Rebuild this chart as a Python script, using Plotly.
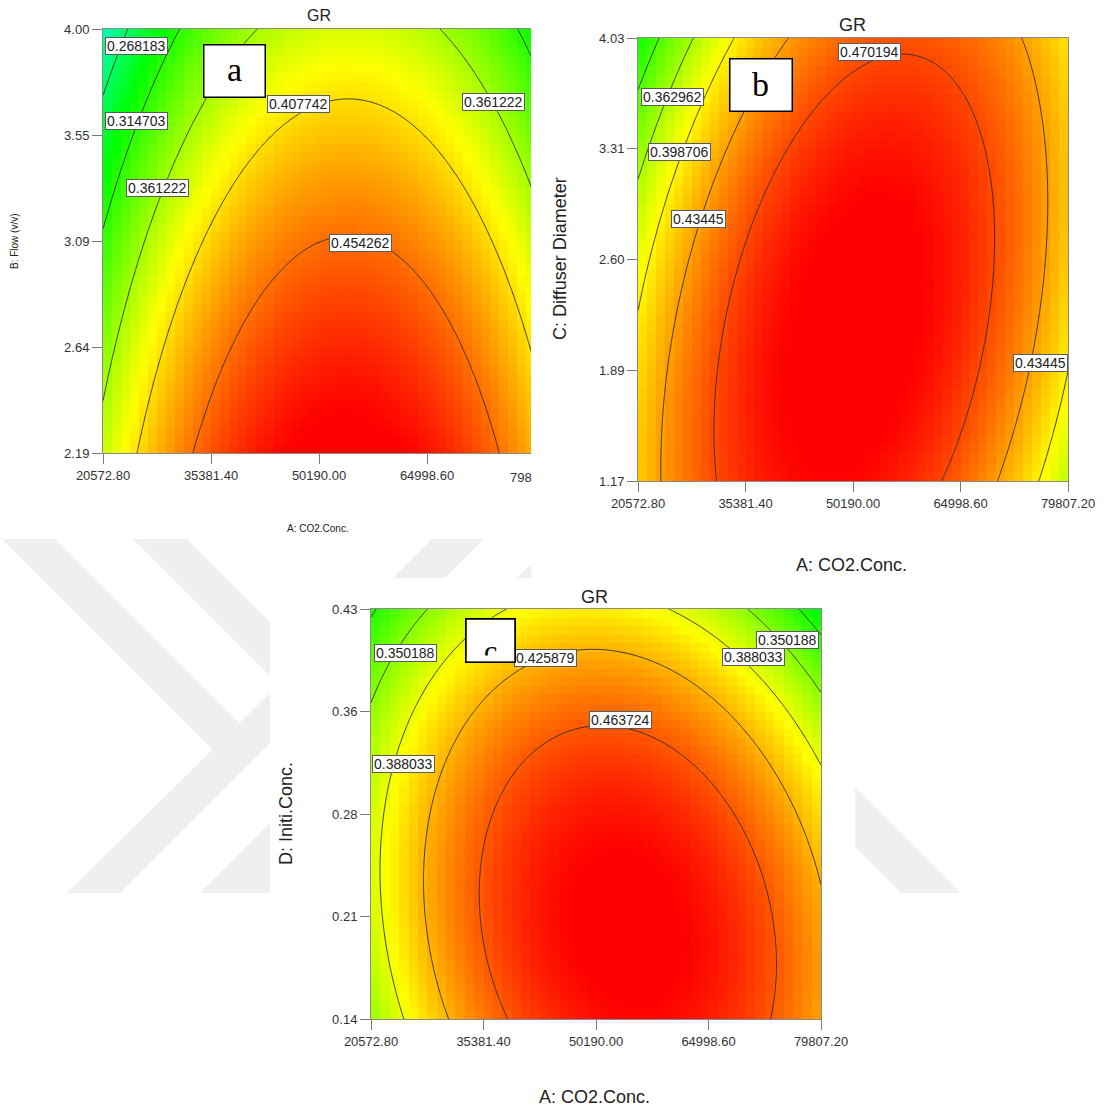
import numpy as np
import plotly.graph_objects as go

FIG_W, FIG_H = 1105, 1108

# ---------------- data ----------------
# shared factor A: CO2 concentration
co2_low, co2_high = 20572.8, 79807.2
co2_ticktext = ["20572.80", "35381.40", "50190.00", "64998.60", "79807.20"]

# panel a : A vs B (Flow, v/v)
flow_low, flow_high = 2.19, 4.00
flow_ticktext = ["2.19", "2.64", "3.09", "3.55", "4.00"]
a_levels = [0.268183, 0.314703, 0.361222, 0.407742, 0.454262]
# points read on the contour lines (coded factor units, -1..+1)
a_pt_level = [0.268183, 0.268183,
              0.314703, 0.314703, 0.314703, 0.314703, 0.314703,
              0.361222, 0.361222, 0.361222, 0.361222, 0.361222, 0.361222,
              0.407742, 0.407742, 0.407742, 0.407742, 0.407742, 0.407742, 0.407742, 0.407742,
              0.454262, 0.454262, 0.454262, 0.454262, 0.454262]
a_pt_A = [-0.856, -1.0,
          -0.654, -0.856, -0.995, 0.889, 0.981,
          -1.0, -0.79, -0.546, -0.321, 0.551, 0.981,
          -0.858, -0.649, -0.49, -0.245, 0.12, 0.486, 0.75, 0.968,
          -0.578, -0.364, 0.174, 0.585, 0.859]
a_pt_B = [1.0, 0.62,
          1.0, 0.519, 0.10, 1.0, 0.868,
          -0.703, 0.10, 0.668, 1.0, 1.0, 0.321,
          -1.0, -0.375, 0.095, 0.608, 0.67, 0.509, 0.132, -0.437,
          -1.0, -0.50, -0.046, -0.50, -1.0]

# panel b : A vs C (Diffuser Diameter)
diam_low, diam_high = 1.17, 4.03
diam_ticktext = ["1.17", "1.89", "2.60", "3.31", "4.03"]
b_levels = [0.327218, 0.362962, 0.398706, 0.43445, 0.470194]
b_pt_level = [0.327218, 0.327218,
              0.362962, 0.362962, 0.362962,
              0.398706, 0.398706, 0.398706, 0.398706, 0.398706,
              0.43445, 0.43445, 0.43445, 0.43445, 0.43445, 0.43445,
              0.43445, 0.43445, 0.43445, 0.43445, 0.43445,
              0.470194, 0.470194, 0.470194, 0.470194, 0.470194, 0.470194,
              0.470194, 0.470194, 0.470194, 0.470194, 0.470194]
b_pt_A = [-0.884, -1.0,
          -0.744, -0.837, -1.0,
          -0.572, -0.805, -1.0, 0.87, 0.90,
          -0.326, -0.526, -0.698, -0.837, -0.884, -0.888,
          0.669, 0.808, 0.884, 0.893, 0.791,
          0.219, -0.107, -0.353, -0.526, -0.634, -0.619,
          0.544, 0.637, 0.637, 0.605, 0.405]
b_pt_C = [0.999, 0.756,
          0.999, 0.734, 0.359,
          0.999, 0.485, -0.22, -1.0, -0.87,
          0.999, 0.689, 0.192, -0.093, -0.544, -1.0,
          -1.0, -0.589, -0.197, 0.418, 0.999,
          0.961, 0.765, 0.359, -0.183, -0.694, -1.0,
          0.598, 0.12, -0.093, -0.544, -1.0]

# panel c : A vs D (Initial Conc.)
init_low, init_high = 0.14, 0.43
init_ticktext = ["0.14", "0.21", "0.28", "0.36", "0.43"]
c_levels = [0.312342, 0.350188, 0.388033, 0.425879, 0.463724]
c_pt_level = [0.312342, 0.312342,
              0.350188, 0.350188, 0.350188, 0.350188,
              0.388033, 0.388033, 0.388033, 0.388033, 0.388033, 0.388033, 0.388033, 0.388033,
              0.425879, 0.425879, 0.425879, 0.425879, 0.425879, 0.425879, 0.425879, 0.425879,
              0.463724, 0.463724, 0.463724, 0.463724, 0.463724, 0.463724, 0.463724, 0.463724, 0.463724]
c_pt_A = [0.881, 1.0,
          -0.846, -1.0, 0.659, 1.0,
          -0.307, -0.72, -0.846, -0.965, -0.862, 0.326, 0.69, 1.0,
          0.025, -0.513, -0.751, -0.783, -0.672, 0.58, 0.945, 1.0,
          0.097, -0.292, -0.466, -0.521, -0.387, 0.5, 0.69, 0.786, 0.723]
c_pt_D = [1.0, 0.815,
          1.0, 0.412, 1.0, 0.613,
          1.0, 0.647, 0.218, -0.372, -1.0, 1.0, 0.761, 0.294,
          0.786, 0.596, -0.026, -0.372, -1.0, 0.546, -0.152, -0.261,
          0.403, 0.26, -0.026, -0.419, -1.0, 0.21, -0.152, -0.609, -1.0]

# ---------------- helpers ----------------
def fit_quadratic(xs, ys, zs):
    xs, ys, zs = (np.asarray(v, float) for v in (xs, ys, zs))
    M = np.column_stack([np.ones_like(xs), xs, ys, xs ** 2, ys ** 2, xs * ys])
    coef, *_ = np.linalg.lstsq(M, zs, rcond=None)
    return coef


def surface(coef, X, Y):
    return (coef[0] + coef[1] * X + coef[2] * Y + coef[3] * X ** 2
            + coef[4] * Y ** 2 + coef[5] * X * Y)


def to_real(coded, lo, hi):
    return (lo + hi) / 2 + np.asarray(coded) * (hi - lo) / 2


def px_x(px):
    return px / FIG_W


def px_y(py):
    return 1 - py / FIG_H


FONT = "Liberation Sans, Arial, sans-serif"
SERIF = "Liberation Serif, Times New Roman, serif"
ZMIN, ZMAX = 0.14, 0.50
def frac(v):
    return (v - ZMIN) / (ZMAX - ZMIN)
COLORSCALE = [[0.0, "rgb(0,0,255)"], [frac(0.22), "rgb(0,255,255)"],
              [frac(0.30), "rgb(0,255,0)"], [frac(0.395), "rgb(255,255,0)"],
              [1.0, "rgb(255,0,0)"]]
NCELL = 48

panels = [
    dict(key="", pts=(a_pt_A, a_pt_B, a_pt_level), levels=a_levels,
         ylo=flow_low, yhi=flow_high, ytext=flow_ticktext,
         box=(103, 531, 29, 453), xcoded_end=-1 + (531 - 103) / 216.0, ymirror=False),
    dict(key="2", pts=(b_pt_A, b_pt_C, b_pt_level), levels=b_levels,
         ylo=diam_low, yhi=diam_high, ytext=diam_ticktext,
         box=(638, 1068, 38, 481), xcoded_end=1.0, ymirror=True),
    dict(key="3", pts=(c_pt_A, c_pt_D, c_pt_level), levels=c_levels,
         ylo=init_low, yhi=init_high, ytext=init_ticktext,
         box=(371, 821, 609, 1019), xcoded_end=1.0, ymirror=True),
]

fig = go.Figure()
layout_axes = {}

centers = -1 + (np.arange(NCELL) + 0.5) * 2.0 / NCELL
fine = np.linspace(-1, 1, 201)

for p in panels:
    k = p["key"]
    xs, ys, zs = p["pts"]
    coef = fit_quadratic(xs, ys, zs)
    CX, CY = np.meshgrid(centers, centers)
    Z = surface(coef, CX, CY)
    FX, FY = np.meshgrid(fine, fine)
    ZF = surface(coef, FX, FY)
    xa, ya = "x" + k, "y" + k
    fig.add_trace(go.Heatmap(
        x=to_real(centers, co2_low, co2_high), y=to_real(centers, p["ylo"], p["yhi"]),
        z=Z, zsmooth=False, colorscale=COLORSCALE, zmin=ZMIN, zmax=ZMAX,
        showscale=False, hoverinfo="skip", xaxis=xa, yaxis=ya))
    lv = p["levels"]
    step = (lv[-1] - lv[0]) / (len(lv) - 1)
    fig.add_trace(go.Contour(
        x=to_real(fine, co2_low, co2_high), y=to_real(fine, p["ylo"], p["yhi"]),
        z=ZF, showscale=False, hoverinfo="skip",
        contours=dict(start=lv[0], end=lv[-1] + step * 0.01, size=step,
                      coloring="lines", showlabels=False),
        colorscale=[[0, "#2a2a2a"], [1, "#2a2a2a"]],
        line=dict(width=0.9, color="#2a2a2a"), xaxis=xa, yaxis=ya))

    x0, x1, y0, y1 = p["box"]
    xtickvals = list(to_real(np.linspace(-1, 1, 5), co2_low, co2_high))
    ytickvals = list(to_real(np.linspace(-1, 1, 5), p["ylo"], p["yhi"]))
    axis_common = dict(showgrid=False, zeroline=False, showline=True, automargin=False,
                       linecolor="#8a8a8a", linewidth=1, ticks="outside",
                       ticklen=10, tickcolor="#7a7a7a", tickwidth=1,
                       tickfont=dict(family=FONT, size=13, color="#333"))
    layout_axes["xaxis" + k] = dict(
        axis_common, domain=[px_x(x0), px_x(x1)],
        range=[co2_low, float(to_real(p["xcoded_end"], co2_low, co2_high))],
        tickvals=xtickvals, ticktext=co2_ticktext, anchor=ya, mirror=True)
    layout_axes["yaxis" + k] = dict(
        axis_common, domain=[px_y(y1), px_y(y0)], range=[p["ylo"], p["yhi"]],
        tickvals=ytickvals, ticktext=p["ytext"], anchor=xa, mirror=p["ymirror"])


def ann(text, px, py, size=13, family=FONT, color="#222", xanchor="center", **kw):
    return dict(text=text, x=px_x(px), y=px_y(py), xref="paper", yref="paper",
                xanchor=xanchor, yanchor="middle",
                showarrow=False, font=dict(family=family, size=size, color=color), **kw)


annotations = []
# titles and axis titles
annotations += [
    ann("GR", 319, 16, size=16),
    ann("GR", 852, 25, size=18),
    ann("GR", 594, 597, size=18),
    ann("B: Flow (v/v)", 15, 241, size=10, textangle=-90),
    ann("A: CO2.Conc.", 318, 528, size=10),
    ann("C: Diffuser Diameter", 560, 259, size=18, textangle=-90),
    ann("A: CO2.Conc.", 851, 565, size=18),
    ann("D: Initi.Conc.", 286, 814, size=18, textangle=-90),
    ann("A: CO2.Conc.", 594, 1097, size=18),
    ann("798", 508, 477, size=13, color="#333", xanchor="left"),
]

label_style = dict(size=14, bgcolor="white", bordercolor="#5a5a5a",
                   borderwidth=1, borderpad=1, height=14)
a_label_pos = [("0.268183", 136, 46), ("0.314703", 136, 121), ("0.361222", 157, 188),
               ("0.407742", 298, 104), ("0.361222", 493, 102), ("0.454262", 360, 243)]
b_label_pos = [("0.470194", 869, 52), ("0.362962", 672, 97), ("0.398706", 679, 152),
               ("0.43445", 698, 219), ("0.43445", 1040, 363)]
c_label_pos = [("0.350188", 405, 653), ("0.425879", 545, 658), ("0.463724", 620, 720),
               ("0.388033", 753, 657), ("0.350188", 787, 640), ("0.388033", 403, 764)]
for t, px, py in a_label_pos + b_label_pos + c_label_pos:
    annotations.append(ann(t, px, py, **label_style))

# panel letter boxes
def letter_box(x0, y0, x1, y1, letter, dy=0):
    out = [ann("", (x0 + x1) / 2, (y0 + y1) / 2, width=x1 - x0 - 2, height=y1 - y0 - 2,
               bgcolor="white", bordercolor="black", borderwidth=1.5, borderpad=0)]
    if letter:
        out.append(ann(letter, (x0 + x1) / 2, (y0 + y1) / 2 + dy, size=34, family=SERIF,
                       color="black"))
    return out

annotations += letter_box(203, 44, 265, 97, "a", dy=-1)
annotations += letter_box(729, 59, 792, 112, "b", dy=-1)
# box c: letter partially hidden at the bottom of the box
annotations += letter_box(465, 618, 515, 662, None)
annotations.append(ann("c", 490, 650, size=30, family=SERIF, color="black"))
annotations.append(ann("", 490, 658.5, width=46, height=5, bgcolor="white", borderpad=0))
annotations.append(ann("", 490, 640, width=48, height=42, bgcolor="rgba(0,0,0,0)",
                       bordercolor="black", borderwidth=1.5, borderpad=0))

# faint watermark behind the panels
def poly(pts):
    d = "M " + " L ".join(f"{px_x(x):.5f},{px_y(y):.5f}" for x, y in pts) + " Z"
    return dict(type="path", path=d, xref="paper", yref="paper",
                fillcolor="#efefef", line=dict(width=0), layer="below")

shapes = [
    poly([(0, 539), (55, 539), (239, 723), (213, 750), (0, 537)]),
    poly([(67, 893), (120, 893), (270, 743), (270, 693)]),
    poly([(133, 539), (187, 539), (270, 622), (270, 676)]),
    poly([(200, 893), (270, 893), (270, 823)]),
    poly([(393, 578), (445, 578), (484, 539), (432, 539)]),
    poly([(517, 578), (531, 578), (531, 564)]),
    poly([(855, 787), (855, 847), (901, 893), (961, 893)]),
]

fig.update_layout(
    width=FIG_W, height=FIG_H, margin=dict(l=0, r=0, t=0, b=0, autoexpand=False),
    paper_bgcolor="white", plot_bgcolor="white", showlegend=False,
    annotations=annotations, shapes=shapes, **layout_axes)

fig.write_html("out.html")
